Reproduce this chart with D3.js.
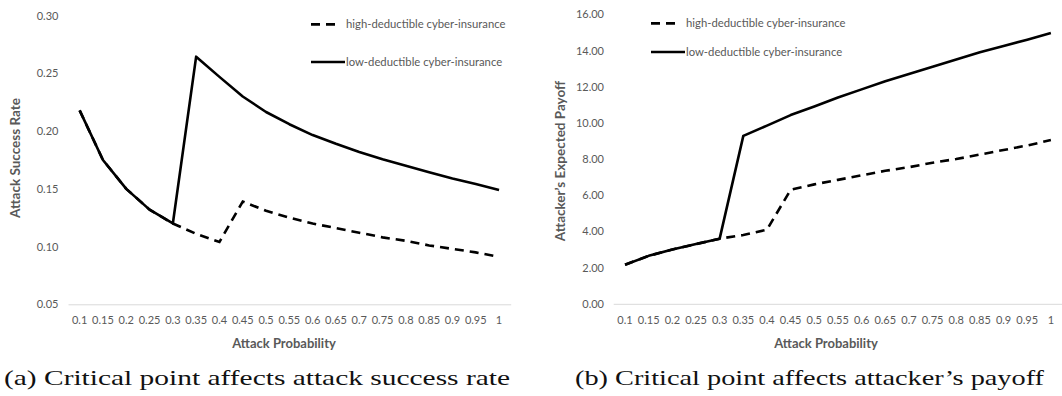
<!DOCTYPE html>
<html>
<head>
<meta charset="utf-8">
<script src="https://cdn.jsdelivr.net/npm/d3@7"></script>
<style>
  body { margin: 0; background: #fff; }
  svg { display: block; }
  text { font-family: Lato, "Open Sans", sans-serif; }
</style>
</head>
<body>
<div id="chart"></div>
<script>
var svgWidth = 1062, svgHeight = 396;

// data
var probs = ["0.1", "0.15", "0.2", "0.25", "0.3", "0.35", "0.4", "0.45", "0.5", "0.55",
             "0.6", "0.65", "0.7", "0.75", "0.8", "0.85", "0.9", "0.95", "1"];
var seriesNames = ["high-deductible cyber-insurance", "low-deductible cyber-insurance"];

var successHigh = [0.218, 0.175, 0.150, 0.132, 0.120, 0.111, 0.104, 0.139, 0.131, 0.125,
                   0.120, 0.116, 0.112, 0.108, 0.105, 0.101, 0.098, 0.095, 0.091];
var successLow  = [0.218, 0.175, 0.150, 0.132, 0.120, 0.2645, 0.247, 0.230, 0.2166, 0.206,
                   0.1966, 0.189, 0.182, 0.1756, 0.170, 0.1643, 0.159, 0.1542, 0.149];
var successTicks = [0.05, 0.10, 0.15, 0.20, 0.25, 0.30];

var payoffHigh = [2.16, 2.65, 3.0, 3.3, 3.6, 3.8, 4.1, 6.3, 6.6, 6.85,
                  7.1, 7.35, 7.55, 7.8, 8.0, 8.25, 8.5, 8.75, 9.05];
var payoffLow  = [2.16, 2.65, 3.0, 3.3, 3.6, 9.28, 9.85, 10.43, 10.9, 11.4,
                  11.85, 12.3, 12.7, 13.1, 13.5, 13.9, 14.25, 14.6, 14.96];
var payoffTicks = [0, 2, 4, 6, 8, 10, 12, 14, 16];

var grey = "#595959";

var svg = d3.select("#chart").append("svg")
    .attr("width", svgWidth)
    .attr("height", svgHeight);

function drawPanel(opt) {
    var g = svg.append("g");

    var x = d3.scaleBand().domain(probs).range(opt.xRange);
    var y = d3.scaleLinear().domain(opt.yDomain).range(opt.yRange);
    var cx = function(i) { return x(probs[i]) + x.bandwidth() / 2; };

    // y axis labels
    var yAxis = g.append("g")
        .attr("transform", "translate(" + opt.yLabelX + ",0)")
        .call(d3.axisLeft(y).tickValues(opt.yTicks).tickSize(0).tickPadding(0).tickFormat(d3.format(".2f")));
    yAxis.select(".domain").remove();
    yAxis.selectAll("text").style("font-size", "11px").style("font-family", "Lato, sans-serif").attr("fill", grey);

    // x axis with light baseline
    var xAxis = g.append("g")
        .attr("transform", "translate(0," + opt.yRange[0] + ")")
        .call(d3.axisBottom(x).tickSize(0).tickPadding(12));
    xAxis.select(".domain").attr("stroke", "#d9d9d9").attr("stroke-width", 1);
    xAxis.selectAll("text").style("font-size", "11px").style("font-family", "Lato, sans-serif").attr("fill", grey);

    var line = d3.line()
        .x(function(d, i) { return cx(i); })
        .y(function(d) { return y(d); });

    g.append("path").datum(opt.high)
        .attr("fill", "none").attr("stroke", "#000")
        .attr("stroke-width", 2.6).attr("stroke-dasharray", "9,6")
        .attr("d", line);
    g.append("path").datum(opt.low)
        .attr("fill", "none").attr("stroke", "#000")
        .attr("stroke-width", 2.6).attr("stroke-linejoin", "round")
        .attr("d", line);

    // axis titles
    g.append("text")
        .attr("x", opt.xTitle[0]).attr("y", opt.xTitle[1])
        .attr("text-anchor", "middle").attr("dy", "0.35em")
        .style("font-size", "13px").style("font-weight", "bold")
        .attr("fill", grey)
        .text("Attack Probability");
    g.append("text")
        .attr("transform", "translate(" + opt.yTitle[0] + "," + opt.yTitle[1] + ") rotate(-90)")
        .attr("text-anchor", "middle").attr("dy", "0.35em")
        .style("font-size", "13.5px").style("font-weight", "bold")
        .attr("fill", grey)
        .text(opt.yTitleText);

    // legend
    var leg = g.append("g");
    leg.append("line")
        .attr("x1", opt.legX).attr("x2", opt.legX + 29)
        .attr("y1", opt.legY[0]).attr("y2", opt.legY[0])
        .attr("stroke", "#000").attr("stroke-width", 2.6).attr("stroke-dasharray", "9,6");
    leg.append("line")
        .attr("x1", opt.legX).attr("x2", opt.legX + 34)
        .attr("y1", opt.legY[1]).attr("y2", opt.legY[1])
        .attr("stroke", "#000").attr("stroke-width", 2.6);
    leg.selectAll(".legtext")
        .data(seriesNames)
        .enter().append("text")
        .attr("class", "legtext")
        .attr("x", opt.legX + 35)
        .attr("y", function(d, i) { return opt.legY[i]; })
        .attr("dy", "0.35em")
        .style("font-size", "11.3px")
        .attr("fill", grey)
        .text(function(d) { return d; });

    // caption below the panel
    svg.append("text")
        .attr("x", opt.caption[0]).attr("y", opt.caption[1])
        .attr("dy", "0.35em")
        .attr("textLength", opt.caption[2]).attr("lengthAdjust", "spacingAndGlyphs")
        .style("font-family", "'Liberation Serif', 'DejaVu Serif', serif")
        .style("font-size", "21px")
        .attr("fill", "#111")
        .text(opt.captionText);
}

drawPanel({
    xRange: [68, 510.7], yDomain: [0.05, 0.30], yRange: [304.3, 15.7], yTicks: successTicks,
    yLabelX: 58.4, high: successHigh, low: successLow,
    xTitle: [284, 343], yTitle: [15, 158], yTitleText: "Attack Success Rate",
    legX: 311, legY: [24.4, 62],
    caption: [4, 378, 506], captionText: "(a) Critical point affects attack success rate"
});

drawPanel({
    xRange: [613.2, 1062.7], yDomain: [0, 16], yRange: [303.8, 14.3], yTicks: payoffTicks,
    yLabelX: 604, high: payoffHigh, low: payoffLow,
    xTitle: [826, 343], yTitle: [560.5, 161], yTitleText: "Attacker\u2019s Expected Payoff",
    legX: 651, legY: [23.4, 52],
    caption: [575, 378, 469], captionText: "(b) Critical point affects attacker\u2019s payoff"
});
</script>
</body>
</html>
